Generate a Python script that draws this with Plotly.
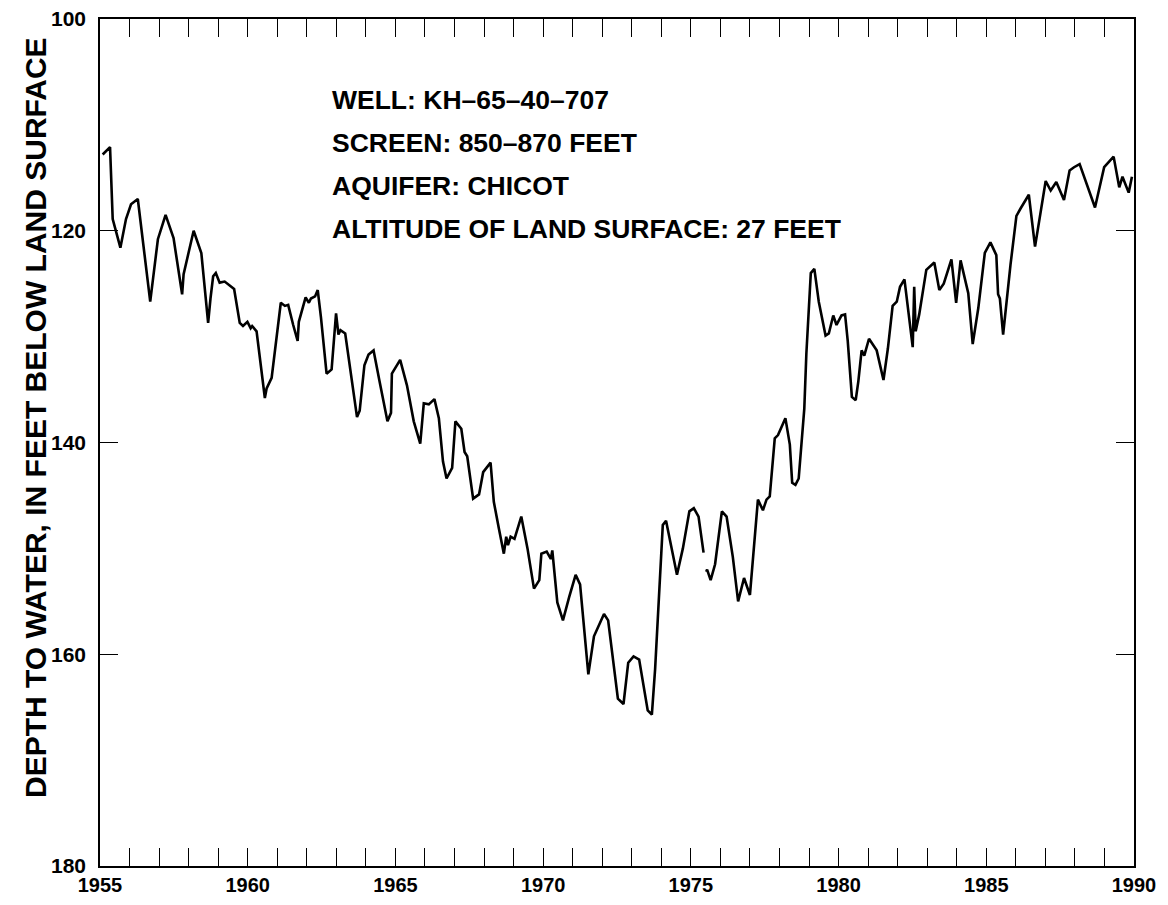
import plotly.graph_objects as go

# Water-level record, well KH-65-40-707 (decimal year, depth below land surface in feet)
years = [
    1955.09, 1955.34, 1955.43, 1955.69, 1955.88, 1956.05, 1956.28, 1956.70, 1956.96, 1957.22,
    1957.49, 1957.78, 1957.83, 1958.17, 1958.43, 1958.66, 1958.74, 1958.83, 1958.92, 1959.05,
    1959.22, 1959.39, 1959.54, 1959.73, 1959.84, 1959.99, 1960.10, 1960.15, 1960.30, 1960.58,
    1960.64, 1960.81, 1960.92, 1961.12, 1961.26, 1961.37, 1961.54, 1961.69, 1961.73, 1961.96,
    1962.07, 1962.14, 1962.28, 1962.37, 1962.48, 1962.67, 1962.84, 1962.99, 1963.07, 1963.14,
    1963.30, 1963.46, 1963.70, 1963.79, 1963.95, 1964.09, 1964.26, 1964.46, 1964.73, 1964.85,
    1964.88, 1965.16, 1965.39, 1965.62, 1965.84, 1965.96, 1966.13, 1966.32, 1966.47, 1966.61,
    1966.73, 1966.92, 1967.03, 1967.23, 1967.34, 1967.43, 1967.63, 1967.83, 1967.97, 1968.22,
    1968.33, 1968.50, 1968.67, 1968.75, 1968.81, 1968.90, 1969.03, 1969.26, 1969.47, 1969.69,
    1969.87, 1969.94, 1970.12, 1970.26, 1970.31, 1970.48, 1970.67, 1970.88, 1971.10, 1971.25,
    1971.53, 1971.72, 1972.06, 1972.20, 1972.53, 1972.72, 1972.88, 1973.06, 1973.25, 1973.54,
    1973.68, 1973.79, 1973.97, 1974.05, 1974.16, 1974.53, 1974.73, 1974.95, 1975.10, 1975.26,
    1975.43,
    None,
    1975.52, 1975.55, 1975.67, 1975.82, 1976.05, 1976.21, 1976.42, 1976.60, 1976.80, 1977.00,
    1977.27, 1977.44, 1977.56, 1977.67, 1977.84, 1977.95, 1978.20, 1978.35, 1978.43, 1978.54,
    1978.65, 1978.84, 1978.91, 1979.06, 1979.18, 1979.33, 1979.56, 1979.67, 1979.82, 1979.93,
    1980.10, 1980.22, 1980.31, 1980.45, 1980.58, 1980.67, 1980.78, 1980.87, 1981.03, 1981.29,
    1981.52, 1981.67, 1981.83, 1981.97, 1982.08, 1982.23, 1982.51, 1982.56, 1982.61, 1982.73,
    1982.97, 1983.24, 1983.41, 1983.56, 1983.82, 1983.98, 1984.13, 1984.39, 1984.54, 1984.73,
    1984.95, 1985.14, 1985.34, 1985.40, 1985.46, 1985.57, 1985.82, 1986.02, 1986.16, 1986.44,
    1986.65, 1987.01, 1987.18, 1987.37, 1987.63, 1987.82, 1987.97, 1988.16, 1988.68, 1988.99,
    1989.31, 1989.50, 1989.61, 1989.82, 1989.93,
]
depth_ft = [
    112.8, 112.1, 118.9, 121.6, 118.9, 117.5, 117.0, 126.7, 120.8, 118.5,
    120.7, 126.0, 124.1, 120.0, 122.1, 128.7, 126.4, 124.3, 124.0, 124.9,
    124.8, 125.2, 125.5, 128.7, 129.0, 128.6, 129.2, 129.0, 129.5, 135.8,
    134.9, 133.9, 131.4, 126.8, 127.1, 127.0, 128.9, 130.4, 128.6, 126.3,
    126.8, 126.4, 126.2, 125.6, 128.2, 133.5, 133.1, 127.8, 129.8, 129.4,
    129.7, 133.0, 137.6, 137.0, 132.7, 131.7, 131.3, 134.2, 138.0, 137.2,
    133.5, 132.2, 134.6, 138.0, 140.1, 136.3, 136.4, 135.9, 137.7, 141.8,
    143.4, 142.4, 138.0, 138.7, 140.9, 141.3, 145.3, 144.9, 142.8, 141.9,
    145.6, 148.1, 150.5, 148.9, 149.7, 148.9, 149.1, 147.0, 150.0, 153.8,
    153.0, 150.5, 150.3, 151.0, 150.2, 155.1, 156.8, 154.6, 152.5, 153.4,
    161.9, 158.3, 156.2, 156.8, 164.2, 164.7, 160.8, 160.2, 160.5, 165.3,
    165.7, 161.4, 151.6, 147.8, 147.4, 152.5, 150.0, 146.5, 146.2, 147.0,
    150.4,
    None,
    152.2, 152.0, 153.0, 151.5, 146.5, 147.0, 150.8, 155.0, 152.8, 154.4,
    145.4, 146.4, 145.4, 145.1, 139.6, 139.3, 137.7, 140.2, 143.8, 144.0,
    143.4, 136.8, 131.6, 124.0, 123.6, 126.7, 129.9, 129.7, 128.0, 128.9,
    128.0, 127.9, 130.4, 135.7, 136.0, 134.2, 131.3, 131.8, 130.2, 131.3,
    134.1, 131.1, 127.1, 126.7, 125.3, 124.6, 131.0, 125.3, 129.5, 127.9,
    123.7, 123.0, 125.6, 125.0, 122.7, 126.8, 122.8, 125.9, 130.7, 127.3,
    122.1, 121.1, 122.3, 126.0, 126.4, 129.8, 123.2, 118.6, 117.9, 116.6,
    121.5, 115.3, 116.2, 115.4, 117.1, 114.3, 114.0, 113.7, 117.8, 114.0,
    113.0, 115.9, 114.9, 116.4, 114.9,
]

x_range = [1955, 1990]
y_range = [180, 100]
x_ticks = list(range(1955, 1991))
x_ticktext = [str(y) if y % 5 == 0 else "" for y in x_ticks]
y_ticks = [100, 120, 140, 160, 180]

info_lines = [
    "WELL: KH\u201365\u201340\u2013707",
    "SCREEN: 850\u2013870 FEET",
    "AQUIFER: CHICOT",
    "ALTITUDE OF LAND SURFACE: 27 FEET",
]
y_title = "DEPTH TO WATER, IN FEET BELOW LAND SURFACE"

FONT = "Liberation Sans, Arial, Helvetica, sans-serif"

# plot-area geometry in pixels
W, H = 1168, 905
M_L, M_R, M_T, M_B = 100, 34, 19, 39
PLOT_W = W - M_L - M_R
PLOT_H = H - M_T - M_B

fig = go.Figure()
fig.add_trace(go.Scatter(
    x=years, y=depth_ft, mode="lines",
    line=dict(color="black", width=2.6),
    connectgaps=False, hoverinfo="skip", showlegend=False,
))

axis_common = dict(
    showline=True, linecolor="black", linewidth=1.6,
    mirror="ticks", ticks="inside", ticklen=18, tickwidth=1.4, tickcolor="black",
    showgrid=False, zeroline=False, automargin=False,
)

fig.update_xaxes(
    range=x_range, tickmode="array", tickvals=x_ticks, ticktext=x_ticktext,
    tickfont=dict(family=FONT, size=20, color="black", weight="bold"),
    ticklabelstandoff=0,
    **axis_common,
)
fig.update_yaxes(
    range=y_range, tickmode="array", tickvals=y_ticks,
    ticktext=[str(v) for v in y_ticks],
    tickfont=dict(family=FONT, size=21, color="black", weight="bold"),
    ticklabelstandoff=8,
    **axis_common,
)

# Well description block, one annotation per line
line_centers_px = [100, 143, 186, 229]
for text, cy in zip(info_lines, line_centers_px):
    fig.add_annotation(
        text=text, xref="paper", yref="paper",
        x=(330 - M_L) / PLOT_W, y=1 - (cy - M_T) / PLOT_H,
        xanchor="left", yanchor="middle", showarrow=False,
        font=dict(family=FONT, size=26.5, color="black", weight="bold"),
    )

fig.add_annotation(
    text=y_title, xref="paper", yref="paper",
    x=(35 - M_L) / PLOT_W, y=1 - (418 - M_T) / PLOT_H,
    xanchor="center", yanchor="middle",
    textangle=-90, showarrow=False,
    font=dict(family=FONT, size=30, color="black", weight="bold"),
)

fig.update_layout(
    template="none",
    width=W, height=H,
    margin=dict(l=M_L, r=M_R, t=M_T, b=M_B, pad=0),
    paper_bgcolor="white", plot_bgcolor="white",
)

fig.write_html("out.html")
